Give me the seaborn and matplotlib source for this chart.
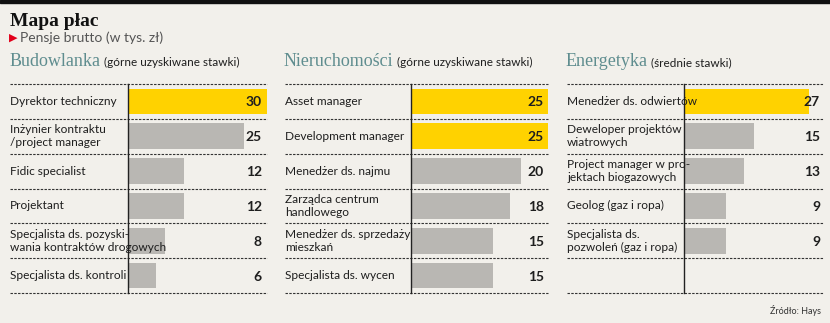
import matplotlib
matplotlib.use("Agg")
import matplotlib.pyplot as plt
import matplotlib.transforms as mtransforms
import seaborn as sns
import numpy as np

# ---------------- data ----------------
bud_labels = ["Dyrektor techniczny", "Inżynier kontraktu\n/project manager", "Fidic specialist",
              "Projektant", "Specjalista ds. pozyski-\nwania kontraktów drogowych",
              "Specjalista ds. kontroli"]
bud_values = [30, 25, 12, 12, 8, 6]

nier_labels = ["Asset manager", "Development manager", "Menedżer ds. najmu",
               "Zarządca centrum\nhandlowego", "Menedżer ds. sprzedaży\nmieszkań",
               "Specjalista ds. wycen"]
nier_values = [25, 25, 20, 18, 15, 15]

ener_labels = ["Menedżer ds. odwiertów", "Deweloper projektów\nwiatrowych",
               "Project manager w pro-\njektach biogazowych", "Geolog (gaz i ropa)",
               "Specjalista ds.\npozwoleń (gaz i ropa)"]
ener_values = [27, 15, 13, 9, 9]

titles = ["Budowlanka", "Nieruchomości", "Energetyka"]
subtitles = ["(górne uzyskiwane stawki)", "(górne uzyskiwane stawki)", "(średnie stawki)"]

# ---------------- style ----------------
sns.set_theme(style="white")
plt.rcParams['font.family'] = ['Lato', 'DejaVu Sans']

BG = "#f2f0eb"
YEL = "#ffd200"
GRY = "#b9b7b3"
HEAD = "#5f8d8f"
TXT = "#1e1e1e"

W, H = 830, 323
fig = plt.figure(figsize=(W / 100, H / 100), dpi=100, facecolor=BG)

def fx(x):
    return x / W

def fy(y):
    return 1 - y / H

# top black band
fig.patches.append(plt.Rectangle((0, fy(3)), 1, 3 / H, transform=fig.transFigure,
                                 color="#111111", zorder=5))

fig.text(fx(10), fy(26), "Mapa płac", family=["Liberation Serif"], fontweight="bold",
         fontsize=14, color="#111111", va="baseline", ha="left")
fig.text(fx(9), fy(38), "▶", family=["DejaVu Sans"], fontsize=8, color="#e2001a",
         va="center", ha="left")
fig.text(fx(20), fy(38), "Pensje brutto (w tys. zł)", fontsize=10, color="#555555",
         va="center", ha="left")

panels = [
    dict(labels=bud_labels, values=bud_values, slots=6, lx=10, ax0=128, ax1=267, xmax=30,
         vx=262, hx=10),
    dict(labels=nier_labels, values=nier_values, slots=6, lx=285, ax0=411, ax1=548, xmax=25,
         vx=544, hx=284),
    dict(labels=ener_labels, values=ener_values, slots=6, lx=567, ax0=684, ax1=823, xmax=30,
         vx=820, hx=566),
]

top, bot = 84, 293
for p, title, sub in zip(panels, titles, subtitles):
    ax = fig.add_axes([fx(p["ax0"]), fy(bot), (p["ax1"] - p["ax0"]) / W, (bot - top) / H])
    ax.set_facecolor("none")
    vmax = max(p["values"])
    colors = [YEL if v == vmax else GRY for v in p["values"]]
    sns.barplot(x=p["values"], y=p["labels"], hue=p["labels"], palette=colors,
                legend=False, orient="h", width=0.74, ax=ax, saturation=1, linewidth=0)
    ax.set_xlim(0, p["xmax"])
    ax.set_ylim(p["slots"] - 0.5, -0.5)
    ax.set_xticks([])
    ax.set_yticks([])
    ax.set_xlabel("")
    ax.set_ylabel("")
    for s in ["top", "right", "bottom"]:
        ax.spines[s].set_visible(False)
    ax.spines["left"].set_color("#222222")
    ax.spines["left"].set_linewidth(1.0)
    ax.spines["left"].set_zorder(4)

    tr = mtransforms.blended_transform_factory(fig.transFigure, ax.transData)
    for i in range(p["slots"] + 1):
        ax.plot([fx(p["lx"]), fx(p["ax1"])], [i - 0.5, i - 0.5], transform=tr,
                color="#333333", lw=0.8, linestyle=(0, (2.2, 1.2)), clip_on=False, zorder=3)
    for i, (lab, v) in enumerate(zip(p["labels"], p["values"])):
        ax.text(fx(p["lx"]), i, lab, transform=tr, ha="left", va="center", fontsize=8.6,
                color=TXT, linespacing=1.22, zorder=6, clip_on=False)
        ax.text(fx(p["vx"]), i + 0.03, str(v), transform=tr, ha="right", va="center",
                fontsize=10, fontweight="bold", color=TXT, zorder=6, clip_on=False)

    t = fig.text(fx(p["hx"]), fy(66), title, family=["Liberation Serif"], fontsize=13,
                 color=HEAD, va="baseline", ha="left")
    fig.canvas.draw()
    bb = t.get_window_extent()
    fig.text(bb.x1 / W + 3 / W, fy(66), sub, fontsize=8.5, color=TXT, va="baseline", ha="left")

fig.text(fx(821), fy(311), "Źródło: Hays", fontsize=6.5, color="#333333", va="center",
         ha="right")

fig.savefig("out.png", dpi=100, facecolor=BG)
